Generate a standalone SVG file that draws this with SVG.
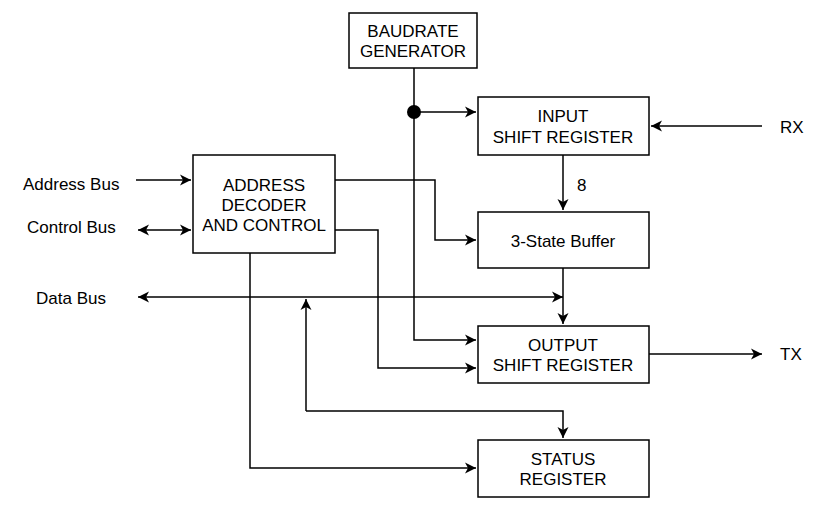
<svg xmlns="http://www.w3.org/2000/svg" width="833" height="522" viewBox="0 0 833 522">
<style>
.box{fill:#fff;stroke:#000;stroke-width:1.5}
.t{font-family:"Liberation Sans",Arial,sans-serif;font-size:17px;fill:#000;text-anchor:middle;dominant-baseline:central}
.l{font-family:"Liberation Sans",Arial,sans-serif;font-size:17px;fill:#000;dominant-baseline:central}
.c{fill:none;stroke:#000;stroke-width:1.5}
</style>
<defs>
<marker id="a" markerWidth="13" markerHeight="12" refX="11" refY="6" orient="auto-start-reverse" markerUnits="userSpaceOnUse">
<path d="M0,0.5 L11,6 L0,11.5 L3,6 Z" fill="#000"/>
</marker>
</defs>
<g id="connectors">
<path class="c" d="M414,68 V340 H476" marker-end="url(#a)"/>
<path class="c" d="M414,112 H476" marker-end="url(#a)"/>
<circle cx="414" cy="112" r="7" fill="#000"/>
<path class="c" d="M762,126 H651" marker-end="url(#a)"/>
<path class="c" d="M563,155 V210" marker-end="url(#a)"/>
<path class="c" d="M136,180 H191" marker-end="url(#a)"/>
<path class="c" d="M138,230 H191" marker-start="url(#a)" marker-end="url(#a)"/>
<path class="c" d="M335,180 H435 V240 H476" marker-end="url(#a)"/>
<path class="c" d="M335,230 H378 V368 H476" marker-end="url(#a)"/>
<path class="c" d="M138,297 H563" marker-start="url(#a)" marker-end="url(#a)"/>
<path class="c" d="M563,268 V324" marker-end="url(#a)"/>
<path class="c" d="M306,411 V299" marker-end="url(#a)"/>
<path class="c" d="M306,411 H563 V438" marker-end="url(#a)"/>
<path class="c" d="M250,253 V468 H476" marker-end="url(#a)"/>
<path class="c" d="M649,354 H762" marker-end="url(#a)"/>
</g>
<g id="baudrate">
<rect class="box" x="349" y="13" width="128" height="55"/>
<text class="t" x="413" y="31">BAUDRATE</text>
<text class="t" x="413" y="51">GENERATOR</text>
</g>
<g id="input-shift">
<rect class="box" x="478" y="97" width="171" height="58"/>
<text class="t" x="563" y="116">INPUT</text>
<text class="t" x="563" y="137">SHIFT REGISTER</text>
</g>
<g id="address-decoder">
<rect class="box" x="193" y="155" width="142" height="98"/>
<text class="t" x="264" y="185">ADDRESS</text>
<text class="t" x="264" y="205">DECODER</text>
<text class="t" x="264" y="225">AND CONTROL</text>
</g>
<g id="buffer">
<rect class="box" x="478" y="212" width="171" height="56"/>
<text class="t" x="563" y="241">3-State Buffer</text>
</g>
<g id="output-shift">
<rect class="box" x="478" y="326" width="171" height="57"/>
<text class="t" x="563" y="345">OUTPUT</text>
<text class="t" x="563" y="365">SHIFT REGISTER</text>
</g>
<g id="status">
<rect class="box" x="478" y="440" width="171" height="57"/>
<text class="t" x="563" y="459">STATUS</text>
<text class="t" x="563" y="479">REGISTER</text>
</g>
<g id="labels">
<text class="l" x="23" y="184">Address Bus</text>
<text class="l" x="27" y="227">Control Bus</text>
<text class="l" x="36" y="298">Data Bus</text>
<text class="l" x="577" y="185">8</text>
<text class="l" x="780" y="127">RX</text>
<text class="l" x="780" y="354">TX</text>
</g>
</svg>
